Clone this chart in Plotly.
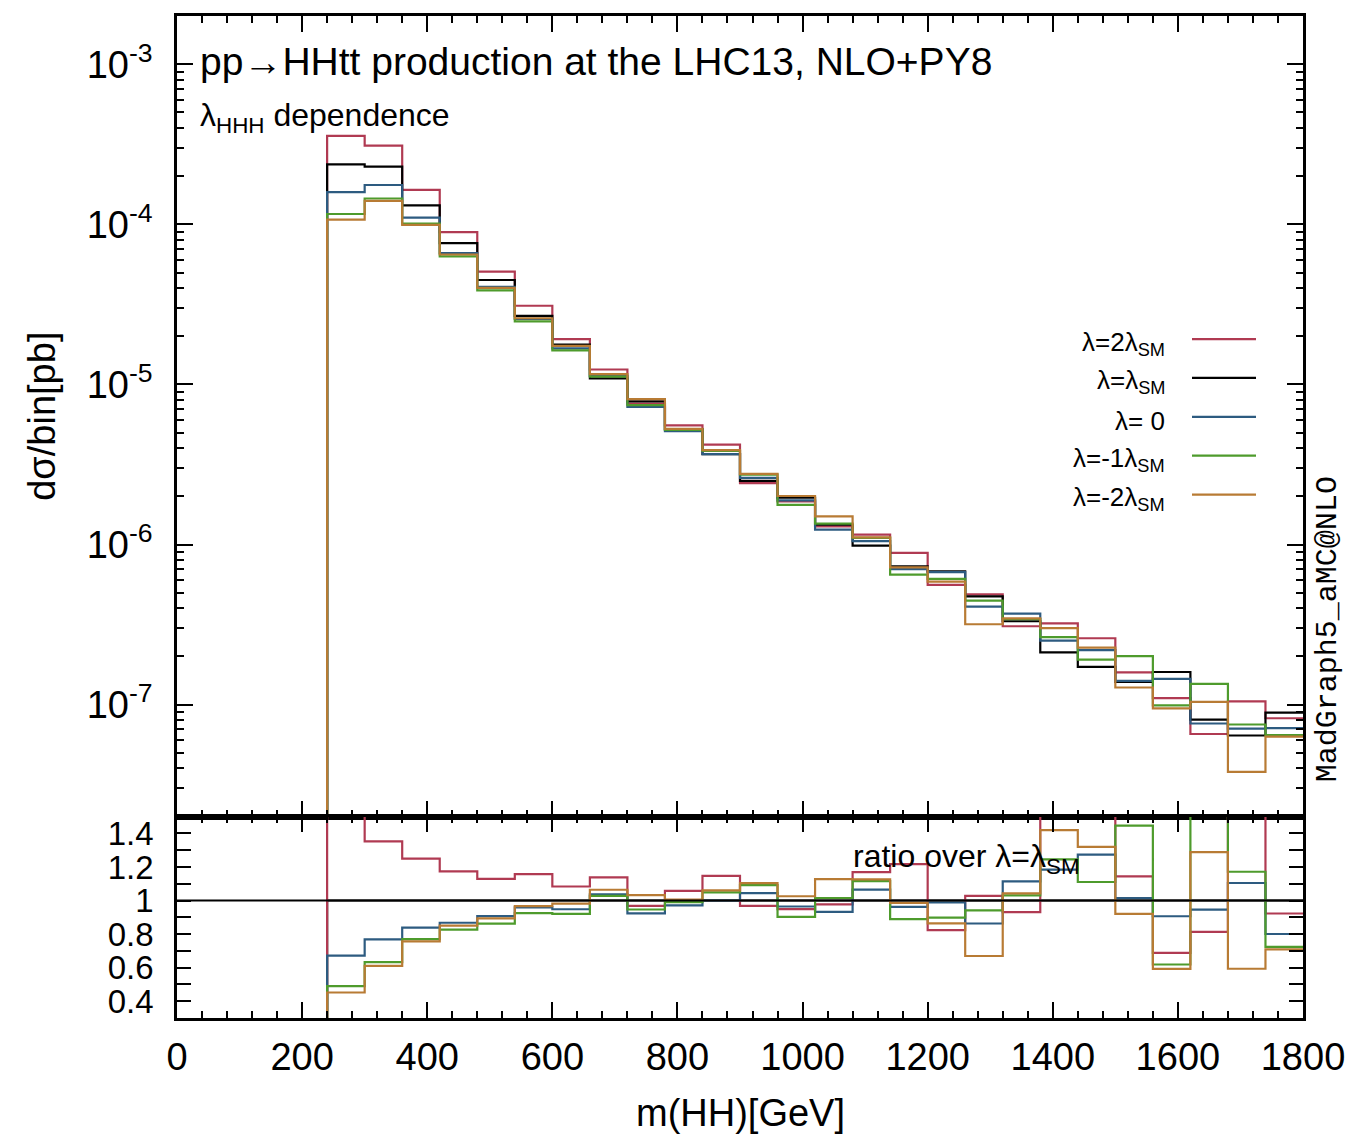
import numpy as np
import plotly.graph_objects as go

# ---------------- data ----------------
bin_edges = [240, 300, 360, 420, 480, 540, 600, 660, 720, 780, 840, 900, 960, 1020,
             1080, 1140, 1200, 1260, 1320, 1380, 1440, 1500, 1560, 1620, 1680, 1740, 1800]

lam_2sm = [3.57e-4, 3.10e-4, 1.64e-4, 8.94e-5, 5.07e-5, 3.10e-5, 1.92e-5, 1.24e-5, 7.59e-6,
           5.55e-6, 4.21e-6, 2.42e-6, 1.86e-6, 1.30e-6, 1.153e-6, 8.88e-7, 5.60e-7, 4.88e-7,
           3.09e-7, 3.22e-7, 2.60e-7, 1.59e-7, 1.10e-7, 6.56e-8, 1.05e-7, 8.23e-8]
lam_sm = [2.368e-4, 2.292e-4, 1.312e-4, 7.62e-5, 4.49e-5, 2.68e-5, 1.772e-5, 1.090e-5, 7.84e-6,
          5.25e-6, 3.67e-6, 2.50e-6, 1.96e-6, 1.33e-6, 9.86e-7, 7.30e-7, 6.80e-7, 4.75e-7,
          3.32e-7, 2.12e-7, 1.72e-7, 1.39e-7, 1.60e-7, 8.07e-8, 6.42e-8, 8.92e-8]
lam_0 = [1.59e-4, 1.76e-4, 1.10e-4, 6.61e-5, 4.07e-5, 2.57e-5, 1.68e-5, 1.13e-5, 7.24e-6,
         5.10e-6, 3.67e-6, 2.61e-6, 1.89e-6, 1.24e-6, 1.05e-6, 7.02e-7, 6.72e-7, 4.10e-7,
         3.70e-7, 2.51e-7, 2.19e-7, 1.41e-7, 1.45e-7, 7.63e-8, 7.09e-8, 7.14e-8]
lam_m1sm = [1.16e-4, 1.45e-4, 1.01e-4, 6.30e-5, 3.87e-5, 2.48e-5, 1.63e-5, 1.12e-5, 7.42e-6,
            5.20e-6, 3.85e-6, 2.73e-6, 1.77e-6, 1.35e-6, 1.10e-6, 6.49e-7, 6.11e-7, 4.47e-7,
            3.42e-7, 2.64e-7, 1.91e-7, 2.01e-7, 9.90e-8, 1.35e-7, 7.52e-8, 6.46e-8]
lam_m2sm = [1.07e-4, 1.40e-4, 9.92e-5, 6.48e-5, 4.01e-5, 2.59e-5, 1.74e-5, 1.16e-5, 8.09e-6,
            5.28e-6, 3.89e-6, 2.76e-6, 2.01e-6, 1.50e-6, 1.11e-6, 7.20e-7, 5.87e-7, 3.18e-7,
            3.46e-7, 3.01e-7, 2.27e-7, 1.28e-7, 9.49e-8, 1.04e-7, 3.81e-8, 6.32e-8]

series_names = ["λ=2λ<sub>SM</sub>", "λ=λ<sub>SM</sub>", "λ= 0",
                "λ=-1λ<sub>SM</sub>", "λ=-2λ<sub>SM</sub>"]
series_vals = [lam_2sm, lam_sm, lam_0, lam_m1sm, lam_m2sm]
colors = ["#B03A52", "#000000", "#2D5B80", "#4E9B2C", "#B87B34"]

x_ticks = [0, 200, 400, 600, 800, 1000, 1200, 1400, 1600, 1800]
y_main_ticks = [1e-7, 1e-6, 1e-5, 1e-4, 1e-3]
y_main_ticktext = ["10<sup>-7</sup>", "10<sup>-6</sup>", "10<sup>-5</sup>",
                   "10<sup>-4</sup>", "10<sup>-3</sup>"]
y_ratio_ticks = [0.4, 0.6, 0.8, 1.0, 1.2, 1.4]
y_ratio_ticktext = ["0.4", "0.6", "0.8", "1", "1.2", "1.4"]

# ---------------- figure ----------------
FONT = "Liberation Sans, Arial, Helvetica, sans-serif"
fig = go.Figure()

x_step = [bin_edges[0]] + list(bin_edges)
# main panel: order red, black, blue, green, orange
for name, vals, col in zip(series_names, series_vals, colors):
    y_main = [1e-30] + list(vals) + [vals[-1]]
    fig.add_trace(go.Scatter(x=x_step, y=y_main, mode="lines", line_shape="hv",
                             line=dict(color=col, width=2.2), xaxis="x", yaxis="y",
                             showlegend=False, name=name))
# ratio panel: black first, then the others
ratio_order = [1, 0, 2, 3, 4]
for i in ratio_order:
    vals, col, name = series_vals[i], colors[i], series_names[i]
    ratio = [v / s for v, s in zip(vals, lam_sm)]
    y_rat = [0.0] + ratio + [ratio[-1]]
    fig.add_trace(go.Scatter(x=x_step, y=y_rat, mode="lines", line_shape="hv",
                             line=dict(color=col, width=2.2), xaxis="x2", yaxis="y2",
                             showlegend=False, name=name))

# reference line at 1 across the ratio panel
fig.add_trace(go.Scatter(x=[x_ticks[0], x_ticks[-1]], y=[1, 1], mode="lines",
                         line=dict(color="black", width=2), xaxis="x2", yaxis="y2",
                         showlegend=False, hoverinfo="skip"))

split = 0.201
minor_log = [k * 10.0 ** e for e in range(-8, -2) for k in range(2, 10)]

axis_common = dict(showline=True, linewidth=2.6, linecolor="black", mirror="ticks",
                   ticks="inside", tickwidth=2, tickcolor="black", showgrid=False,
                   zeroline=False)

# page body has an 8px margin: size and margins compensate for it
fig.update_layout(
    width=1350, height=1130,
    margin=dict(l=169, r=55, t=5, b=120),
    plot_bgcolor="white", paper_bgcolor="white",
    font=dict(family=FONT, color="black", size=36),
    xaxis=dict(domain=[0, 1], anchor="y", range=[0, 1800], tickvals=x_ticks,
               showticklabels=False, ticklen=16, matches="x2",
               minor=dict(dtick=40, tick0=0, ticks="inside", ticklen=7, tickwidth=1.5,
                          tickcolor="black"),
               **axis_common),
    yaxis=dict(domain=[split, 1], anchor="x", type="log",
               range=[np.log10(2e-8), np.log10(2e-3)],
               tickmode="array", tickvals=y_main_ticks, ticktext=y_main_ticktext,
               ticklen=16, tickfont=dict(size=38), ticklabelstandoff=14,
               minor=dict(tickmode="array", tickvals=minor_log, ticks="inside",
                          ticklen=7, tickwidth=1.5, tickcolor="black"),
               **axis_common),
    xaxis2=dict(domain=[0, 1], anchor="y2", range=[0, 1800], tickvals=x_ticks,
                ticklen=16, tickfont=dict(size=38), ticklabelstandoff=4,
                minor=dict(dtick=40, tick0=0, ticks="inside", ticklen=7, tickwidth=1.5,
                           tickcolor="black"),
                **axis_common),
    yaxis2=dict(domain=[0, split], anchor="x2", range=[0.3, 1.5],
                tickmode="array", tickvals=y_ratio_ticks, ticktext=y_ratio_ticktext,
                ticklen=14, tickfont=dict(size=33), ticklabelstandoff=14,
                minor=dict(tickmode="array", tickvals=[0.5, 0.7, 0.9, 1.1, 1.3],
                           ticks="inside", ticklen=14, tickwidth=2, tickcolor="black"),
                **axis_common),
)

def px_x(px):
    return (px - 177) / 1126.0

def px_y(py):
    return (1018 - py) / 1005.0

ann = []
ann.append(dict(text="pp→HHtt production at the LHC13, NLO+PY8", x=px_x(198), y=px_y(59),
                xref="paper", yref="paper", xanchor="left", yanchor="middle",
                showarrow=False, font=dict(size=39)))
ann.append(dict(text="λ<sub>HHH</sub> dependence", x=px_x(198), y=px_y(115),
                xref="paper", yref="paper", xanchor="left", yanchor="middle",
                showarrow=False, font=dict(size=32)))
ann.append(dict(text="ratio over λ=λ<sub>SM</sub>", x=px_x(851), y=px_y(858),
                xref="paper", yref="paper", xanchor="left", yanchor="middle",
                showarrow=False, font=dict(size=32)))
ann.append(dict(text="dσ/bin[pb]", x=px_x(42), y=px_y(415), textangle=-90,
                xref="paper", yref="paper", xanchor="center", yanchor="middle",
                showarrow=False, font=dict(size=38)))
ann.append(dict(text="m(HH)[GeV]", x=px_x(740), y=px_y(1113),
                xref="paper", yref="paper", xanchor="center", yanchor="middle",
                showarrow=False, font=dict(size=38)))
ann.append(dict(text="MadGraph5_aMC@NLO", x=px_x(1328), y=px_y(628), textangle=-90,
                xref="paper", yref="paper", xanchor="center", yanchor="middle",
                showarrow=False,
                font=dict(size=30, family="Liberation Mono, Courier New, monospace")))

legend_rows = [337, 376, 415, 454, 493]
shapes = []
for name, col, row in zip(series_names, colors, legend_rows):
    ann.append(dict(text=name, x=px_x(1167), y=px_y(row + 4), xref="paper", yref="paper",
                    xanchor="right", yanchor="middle", showarrow=False,
                    font=dict(size=26)))
    shapes.append(dict(type="line", xref="paper", yref="paper",
                       x0=px_x(1192), x1=px_x(1256), y0=px_y(row), y1=px_y(row),
                       line=dict(color=col, width=2.2)))

fig.update_layout(annotations=ann, shapes=shapes)

fig.write_html("out.html")
